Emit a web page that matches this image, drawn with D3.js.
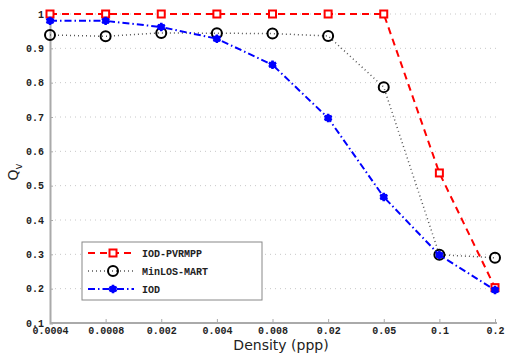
<!DOCTYPE html>
<html>
<head>
<meta charset="utf-8">
<script src="https://cdn.jsdelivr.net/npm/d3@7"></script>
<style>
  body { margin: 0; background: #fff; }
  svg { display: block; }
</style>
</head>
<body>
<svg></svg>
<script>
const densities = ["0.0004", "0.0008", "0.002", "0.004", "0.008", "0.02", "0.05", "0.1", "0.2"];
const iodPvrmpp = [1, 1, 1, 1, 1, 1, 1, 0.537, 0.203];
const minlosMart = [0.939, 0.935, 0.945, 0.944, 0.943, 0.936, 0.787, 0.299, 0.29];
const iod = [0.98, 0.98, 0.962, 0.928, 0.852, 0.697, 0.467, 0.298, 0.196];
const yTicks = [0.1, 0.2, 0.3, 0.4, 0.5, 0.6, 0.7, 0.8, 0.9, 1];

const width = 507;
const height = 356;
const margin = { top: 14, right: 10, bottom: 33, left: 50 };
const innerWidth = width - margin.left - margin.right;
const innerHeight = height - margin.top - margin.bottom;

const svg = d3.select("svg").attr("width", width).attr("height", height);
const g = svg.append("g").attr("transform", `translate(${margin.left}, ${margin.top})`);

const x = d3.scalePoint().domain(densities).range([0, innerWidth - 2]);
const y = d3.scaleLinear().domain([0.1, 1]).range([innerHeight, 0]);

// grid
g.selectAll(".grid")
  .data(yTicks.slice(1))
  .enter()
  .append("line")
  .attr("x1", 0)
  .attr("x2", innerWidth)
  .attr("y1", d => y(d))
  .attr("y2", d => y(d))
  .attr("stroke", "#c8c8c8")
  .attr("stroke-width", 1)
  .attr("stroke-dasharray", "1,4");

const mono = "'Liberation Mono', 'DejaVu Sans Mono', monospace";

const yAxis = g.append("g")
  .call(d3.axisLeft(y).tickValues(yTicks).tickSize(-3).tickPadding(6).tickFormat(d => d === 1 ? "1" : d3.format(".1f")(d)));
const xAxis = g.append("g")
  .attr("transform", `translate(0, ${innerHeight})`)
  .call(d3.axisBottom(x).tickSize(-4).tickPadding(2));

[yAxis, xAxis].forEach(a => {
  a.select(".domain").attr("stroke", "#aaa").attr("stroke-width", 2);
  a.selectAll(".tick line").attr("stroke", "#aaa");
  a.selectAll("text")
    .attr("font-family", mono)
    .attr("font-size", "10px")
    .attr("font-weight", "bold")
    .attr("fill", "#222");
});
xAxis.select(".domain").attr("d", `M0,0H${innerWidth}`);
xAxis.selectAll(".tick text").attr("y", 11).attr("dy", null);

// axis titles
svg.append("text")
  .attr("x", 281)
  .attr("y", 350)
  .attr("text-anchor", "middle")
  .attr("font-family", "'DejaVu Sans', sans-serif")
  .attr("font-size", "14px")
  .attr("fill", "#222")
  .text("Density (ppp)");

const yTitle = svg.append("text")
  .attr("transform", "translate(18, 172) rotate(-90)")
  .attr("text-anchor", "middle")
  .attr("font-family", "'DejaVu Sans', sans-serif")
  .attr("font-size", "14px")
  .attr("fill", "#222");
yTitle.append("tspan").text("Q");
yTitle.append("tspan").attr("font-size", "10px").attr("dy", "4").text("v");

const series = [
  { name: "IOD-PVRMPP", values: iodPvrmpp, color: "#ff0000", dash: "7,5", width: 2, marker: "square" },
  { name: "MinLOS-MART", values: minlosMart, color: "#555", dash: "1,3", width: 1.5, marker: "circle" },
  { name: "IOD", values: iod, color: "#0000ff", dash: "7,3,1.5,3", width: 2, marker: "star" }
];

const line = d3.line().x((d, i) => x(densities[i])).y(d => y(d));

function drawMarker(sel, s, cx, cy) {
  if (s.marker === "square") {
    sel.append("rect")
      .attr("x", cx - 3.5).attr("y", cy - 3.5)
      .attr("width", 7).attr("height", 7)
      .attr("fill", "#fff").attr("stroke", s.color).attr("stroke-width", 2);
  } else if (s.marker === "circle") {
    sel.append("circle")
      .attr("cx", cx).attr("cy", cy).attr("r", 5)
      .attr("fill", "none").attr("stroke", "#000").attr("stroke-width", 2);
  } else {
    sel.append("path")
      .attr("transform", `translate(${cx}, ${cy})`)
      .attr("d", d3.symbol().type(d3.symbolAsterisk).size(50)())
      .attr("stroke", s.color).attr("stroke-width", 2.5);
    sel.append("circle")
      .attr("cx", cx).attr("cy", cy).attr("r", 3.5)
      .attr("fill", s.color);
  }
}

series.forEach(s => {
  g.append("path")
    .datum(s.values)
    .attr("d", line)
    .attr("fill", "none")
    .attr("stroke", s.color)
    .attr("stroke-width", s.width)
    .attr("stroke-dasharray", s.dash);
  const mg = g.append("g");
  s.values.forEach((v, i) => drawMarker(mg, s, x(densities[i]), y(v)));
});

// legend
const legend = svg.append("g").attr("transform", "translate(82, 242)");
legend.append("rect")
  .attr("width", 180).attr("height", 58)
  .attr("fill", "#fff").attr("stroke", "#888").attr("stroke-width", 1);
series.forEach((s, i) => {
  const ly = 11 + i * 18;
  legend.append("line")
    .attr("x1", 6).attr("x2", 52)
    .attr("y1", ly).attr("y2", ly)
    .attr("stroke", s.color).attr("stroke-width", s.width)
    .attr("stroke-dasharray", s.dash);
  drawMarker(legend, s, 31, ly);
  legend.append("text")
    .attr("x", 60).attr("y", ly).attr("dy", "0.35em")
    .attr("font-family", mono)
    .attr("font-size", "10px")
    .attr("font-weight", "bold")
    .attr("fill", "#222")
    .text(s.name);
});
</script>
</body>
</html>
